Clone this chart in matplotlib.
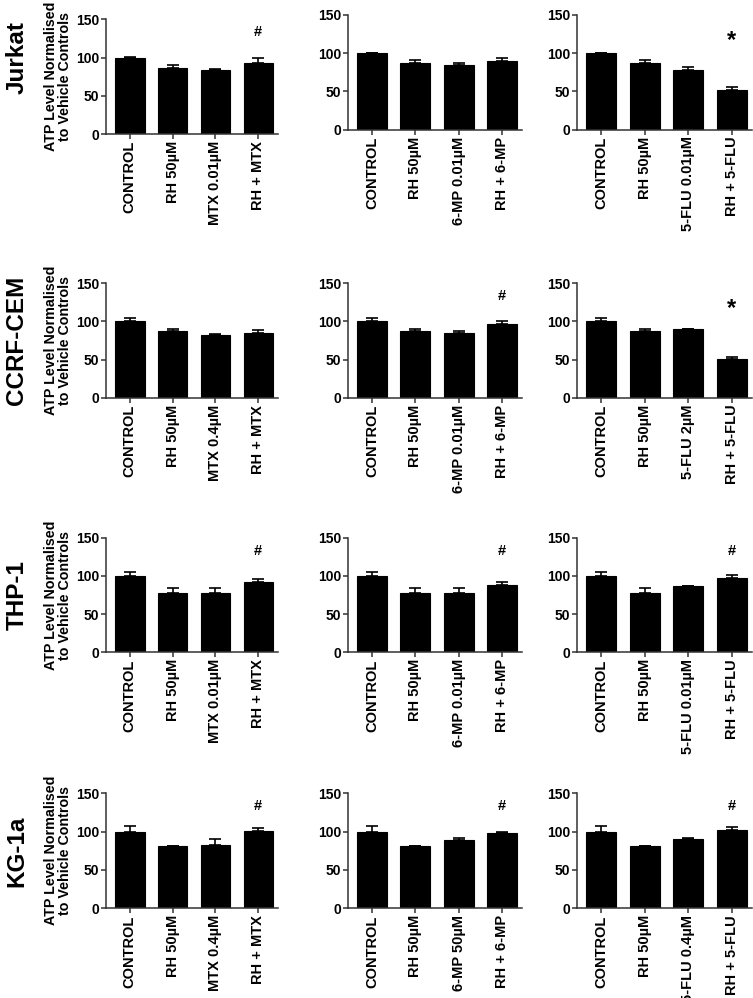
import numpy as np
import matplotlib
matplotlib.use('Agg')
import matplotlib.pyplot as plt

plt.rcParams['font.family'] = ['Liberation Sans', 'DejaVu Sans']
plt.rcParams['font.weight'] = 'bold'

cell_lines = ['Jurkat', 'CCRF-CEM', 'THP-1', 'KG-1a']

# tick labels per panel (row, column)
labels = [
    [['CONTROL', 'RH 50µM', 'MTX 0.01µM', 'RH + MTX'],
     ['CONTROL', 'RH 50µM', '6-MP 0.01µM', 'RH + 6-MP'],
     ['CONTROL', 'RH 50µM', '5-FLU 0.01µM', 'RH + 5-FLU']],
    [['CONTROL', 'RH 50µM', 'MTX 0.4µM', 'RH + MTX'],
     ['CONTROL', 'RH 50µM', '6-MP 0.01µM', 'RH + 6-MP'],
     ['CONTROL', 'RH 50µM', '5-FLU 2µM', 'RH + 5-FLU']],
    [['CONTROL', 'RH 50µM', 'MTX 0.01µM', 'RH + MTX'],
     ['CONTROL', 'RH 50µM', '6-MP 0.01µM', 'RH + 6-MP'],
     ['CONTROL', 'RH 50µM', '5-FLU 0.01µM', 'RH + 5-FLU']],
    [['CONTROL', 'RH 50µM', 'MTX 0.4µM', 'RH + MTX'],
     ['CONTROL', 'RH 50µM', '6-MP 50µM', 'RH + 6-MP'],
     ['CONTROL', 'RH 50µM', '5-FLU 0.4µM', 'RH + 5-FLU']],
]

# mean ATP level (% of vehicle control)
jurkat_mean = [[100, 86.5, 84, 93.5], [100, 86.5, 84.5, 90], [100, 86.5, 78.5, 52]]
jurkat_err = [[0.5, 4, 1.5, 6], [0.5, 4, 2.5, 4], [0.5, 4, 4, 3.5]]
ccrf_mean = [[100, 87, 82, 85], [100, 87, 85, 96.5], [100, 87, 89.5, 51]]
ccrf_err = [[4.5, 2.5, 1, 4], [4.5, 2.5, 3, 4], [4.5, 2.5, 1, 3]]
thp1_mean = [[100, 78, 78, 92.5], [100, 78, 78, 88.5], [100, 78, 86.5, 97.5]]
thp1_err = [[5, 6.5, 6.5, 3.5], [5, 6.5, 6.5, 4], [5, 6.5, 0.5, 4]]
kg1a_mean = [[100, 81.5, 82.5, 100.5], [100, 81.5, 89, 98], [100, 81.5, 90.5, 101.5]]
kg1a_err = [[7, 0.3, 7.5, 4], [7, 0.3, 2.5, 1], [7, 0.3, 1, 4]]

means = [jurkat_mean, ccrf_mean, thp1_mean, kg1a_mean]
errs = [jurkat_err, ccrf_err, thp1_err, kg1a_err]

# significance marks: (bar index, symbol)
marks = [
    [(3, '#'), None, (3, '*')],
    [None, (3, '#'), (3, '*')],
    [(3, '#'), (3, '#'), (3, '#')],
    [(3, '#'), (3, '#'), (3, '#')],
]

W, H = 753, 998
fig = plt.figure(figsize=(W / 100, H / 100), dpi=100)

col_x = [(106, 278), (348, 522), (577, 752)]
row_y = [(15, 129.5), (283.3, 397.7), (537.7, 652.3), (793.3, 908.3)]
row_label_y = [58, 340, 595, 851]

for r in range(4):
    for c in range(3):
        x0, x1 = col_x[c]
        y0, y1 = row_y[r]
        if r == 0 and c == 0:
            y0, y1 = y0 + 4.5, y1 + 4.5
        ax = fig.add_axes([x0 / W, 1 - y1 / H, (x1 - x0) / W, (y1 - y0) / H])
        x = np.arange(4)
        m = np.array(means[r][c])
        e = np.array(errs[r][c])
        ax.bar(x, m, width=0.69, color='black', edgecolor='black', linewidth=0.8,
               yerr=[np.zeros(4), e], capsize=4.2,
               error_kw=dict(ecolor='black', elinewidth=1.2, capthick=1.2))
        ax.set_xlim(-0.555, 3.46)
        ax.set_ylim(0, 150)
        ax.set_yticks([0, 50, 100, 150])
        ax.set_xticks(x)
        ax.set_xticklabels(labels[r][c], rotation=90, fontsize=10.5, fontweight='bold')
        for t in ax.get_yticklabels():
            t.set_fontsize(10)
            t.set_fontweight('bold')
        for s in ['top', 'right']:
            ax.spines[s].set_visible(False)
        for s in ['left', 'bottom']:
            ax.spines[s].set_linewidth(1.1)
            ax.spines[s].set_color('#333333')
        ax.tick_params(axis='both', direction='out', length=3.5, width=1.1,
                       color='#333333', pad=1.5)
        mk = marks[r][c]
        if mk is not None:
            i, sym = mk
            if sym == '#':
                ax.text(i, 133, sym, ha='center', va='center', fontsize=10.5, fontweight='bold')
            else:
                ax.text(i, 117, sym, ha='center', va='center', fontsize=17, fontweight='bold')
        if c == 0:
            ax.set_ylabel('ATP Level Normalised\nto Vehicle Controls', fontsize=10.3,
                          fontweight='bold', linespacing=1.0, labelpad=3)
    fig.text(17 / W, 1 - row_label_y[r] / H, cell_lines[r], rotation=90,
             ha='center', va='center', fontsize=17.5, fontweight='bold')

fig.savefig('out.png', dpi=100)
